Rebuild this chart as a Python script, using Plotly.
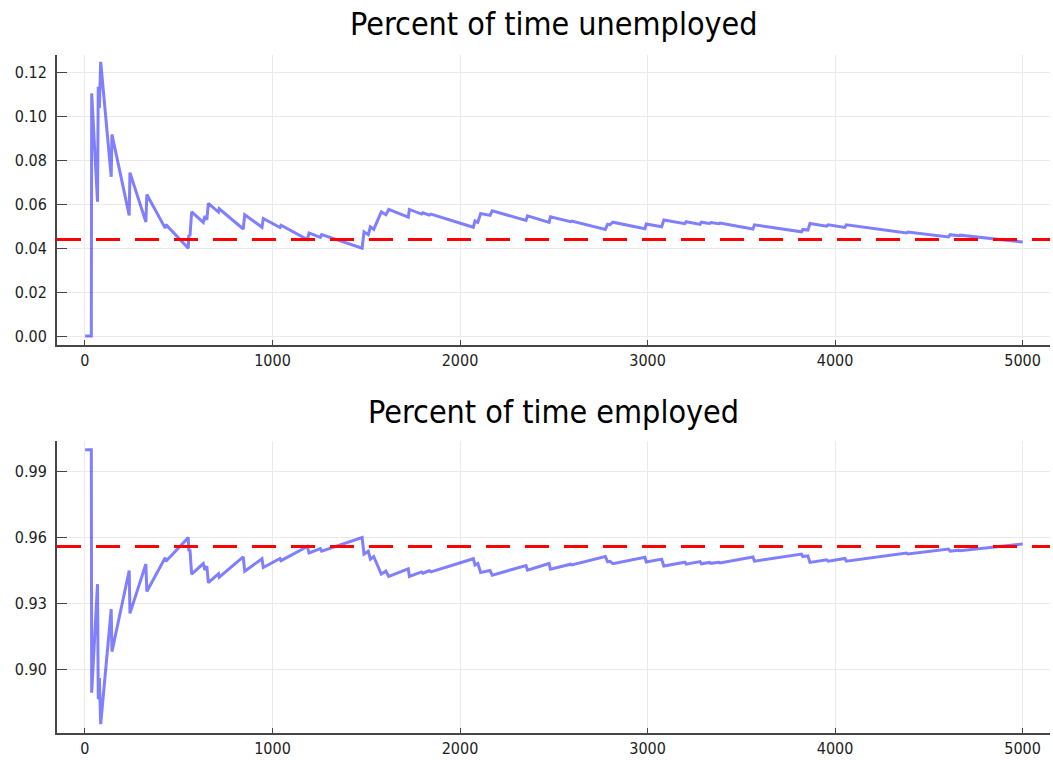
import plotly.graph_objects as go

# Sample path summary: time index and running share of periods in each state
periods = [1, 34, 36, 67, 71, 77, 84, 140, 144, 236, 240, 325, 330, 428, 432,
           551, 554, 560, 569, 631, 640, 650, 658, 712, 716, 844, 852, 944, 951,
           1040, 1046, 1186, 1195, 1255, 1262, 1478, 1488, 1511, 1522, 1540,
           1580, 1605, 1620, 1724, 1730, 1795, 1802, 1836, 1845, 2071, 2080,
           2095, 2110, 2160, 2172, 2352, 2360, 2475, 2482, 2590, 2596, 2775,
           2787, 2800, 2815, 2986, 2993, 3075, 3087, 3199, 3206, 3280, 3287,
           3330, 3338, 3380, 3386, 3562, 3570, 3821, 3828, 3855, 3866, 3955,
           3963, 4052, 4060, 4381, 4388, 4605, 4614, 4660, 4666, 5000]

unemployed_share = [0.0, 0.0, 0.1106, 0.0612, 0.1136, 0.1040, 0.1250, 0.0726,
                    0.0919, 0.0550, 0.0745, 0.0520, 0.0645, 0.0492, 0.0508,
                    0.0400, 0.0462, 0.0455, 0.0566, 0.0518, 0.0548, 0.0530,
                    0.0605, 0.0565, 0.0580, 0.0488, 0.0553, 0.0496, 0.0536,
                    0.0495, 0.0505, 0.0440, 0.0470, 0.0450, 0.0462, 0.0400,
                    0.0475, 0.0462, 0.0498, 0.0486, 0.0566, 0.0553, 0.0577,
                    0.0542, 0.0577, 0.0556, 0.0562, 0.0551, 0.0556, 0.0496,
                    0.0525, 0.0518, 0.0559, 0.0550, 0.0571, 0.0527, 0.0548,
                    0.0518, 0.0544, 0.0521, 0.0524, 0.0486, 0.0510, 0.0508,
                    0.0519, 0.0489, 0.0511, 0.0498, 0.0529, 0.0512, 0.0521,
                    0.0509, 0.0519, 0.0513, 0.0517, 0.0512, 0.0515, 0.0488,
                    0.0507, 0.0475, 0.0486, 0.0483, 0.0513, 0.0501, 0.0507,
                    0.0495, 0.0507, 0.0470, 0.0474, 0.0452, 0.0462, 0.0457,
                    0.0460, 0.0429]

employed_share = [1.0, 1.0, 0.8894, 0.9388, 0.8864, 0.8960, 0.8750, 0.9274,
                  0.9081, 0.9450, 0.9255, 0.9480, 0.9355, 0.9508, 0.9492,
                  0.9600, 0.9538, 0.9545, 0.9434, 0.9482, 0.9452, 0.9470,
                  0.9395, 0.9435, 0.9420, 0.9512, 0.9447, 0.9504, 0.9464,
                  0.9505, 0.9495, 0.9560, 0.9530, 0.9550, 0.9538, 0.9600,
                  0.9525, 0.9538, 0.9502, 0.9514, 0.9434, 0.9447, 0.9423,
                  0.9458, 0.9423, 0.9444, 0.9438, 0.9449, 0.9444, 0.9504,
                  0.9475, 0.9482, 0.9441, 0.9450, 0.9429, 0.9473, 0.9452,
                  0.9482, 0.9456, 0.9479, 0.9476, 0.9514, 0.9490, 0.9492,
                  0.9481, 0.9511, 0.9489, 0.9502, 0.9471, 0.9488, 0.9479,
                  0.9491, 0.9481, 0.9487, 0.9483, 0.9488, 0.9485, 0.9512,
                  0.9493, 0.9525, 0.9514, 0.9517, 0.9487, 0.9499, 0.9493,
                  0.9505, 0.9493, 0.9530, 0.9526, 0.9548, 0.9538, 0.9543,
                  0.9540, 0.9571]

# Stationary probabilities
stationary_unemployed = 0.044
stationary_employed = 0.956

titles = ["Percent of time unemployed", "Percent of time employed"]
x_ticks = [0, 1000, 2000, 3000, 4000, 5000]
y_ticks_top = [0.00, 0.02, 0.04, 0.06, 0.08, 0.10, 0.12]
y_ticks_bottom = [0.90, 0.93, 0.96, 0.99]

LINE = "rgba(0,0,255,0.5)"
GRID = "rgb(234,234,234)"
AXIS = "rgb(70,70,70)"
FONT = "DejaVu Sans Condensed, DejaVu Sans"
TICK_FONT = dict(family=FONT, size=16, color="rgb(30,30,30)")
TITLE_FONT = dict(family=FONT, size=32, color="black")
DASH = dict(color="red", width=3, dash="24px,15px")

fig = go.Figure()
fig.add_trace(go.Scatter(x=periods, y=unemployed_share, mode="lines",
                         line=dict(color=LINE, width=3),
                         xaxis="x", yaxis="y", showlegend=False))
fig.add_trace(go.Scatter(x=periods, y=employed_share, mode="lines",
                         line=dict(color=LINE, width=3),
                         xaxis="x2", yaxis="y2", showlegend=False))

# Horizontal reference lines at the stationary values, across each panel
fig.add_shape(type="line", xref="x domain", yref="y", x0=0, x1=1,
              y0=stationary_unemployed, y1=stationary_unemployed,
              line=DASH, layer="above")
fig.add_shape(type="line", xref="x2 domain", yref="y2", x0=0, x1=1,
              y0=stationary_employed, y1=stationary_employed,
              line=DASH, layer="above")

axis_common = dict(showline=True, linecolor=AXIS, linewidth=2, mirror=False,
                   showgrid=True, gridcolor=GRID, gridwidth=1, zeroline=False,
                   ticks="inside", tickcolor=AXIS, tickfont=TICK_FONT)

x_range = [-149, 5146]
fig.update_layout(
    width=1053, height=760,
    margin=dict(l=57, r=3, t=0, b=0),
    paper_bgcolor="white", plot_bgcolor="white",
    xaxis=dict(domain=[0, 1], range=x_range, tickvals=x_ticks, tickformat="d",
               anchor="y", ticklen=5, **axis_common),
    yaxis=dict(domain=[0.546, 0.9276], range=[-0.0041, 0.1281],
               tickvals=y_ticks_top, tickformat=".2f", anchor="x",
               ticklen=10, ticklabelstandoff=5, **axis_common),
    xaxis2=dict(domain=[0, 1], range=x_range, tickvals=x_ticks, tickformat="d",
                anchor="y2", ticklen=5, **axis_common),
    yaxis2=dict(domain=[0.0355, 0.4197], range=[0.871, 1.004],
                tickvals=y_ticks_bottom, tickformat=".2f", anchor="x2",
                ticklen=10, ticklabelstandoff=5, **axis_common),
    annotations=[
        dict(text=titles[0], xref="paper", yref="paper", x=0.5, y=0.968,
             xanchor="center", yanchor="middle", showarrow=False,
             font=TITLE_FONT),
        dict(text=titles[1], xref="paper", yref="paper", x=0.5, y=0.458,
             xanchor="center", yanchor="middle", showarrow=False,
             font=TITLE_FONT),
    ],
)

fig.write_html("out.html")
